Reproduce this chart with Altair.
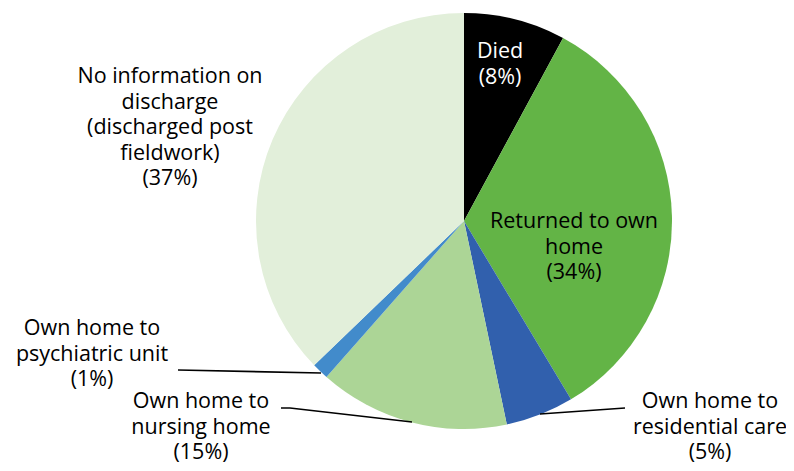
import altair as alt
import pandas as pd

# Data
categories = ["Died", "Returned to own home", "Own home to residential care",
              "Own home to nursing home", "Own home to psychiatric unit",
              "No information on discharge (discharged post fieldwork)"]
shares = [7.9, 33.5, 5.3, 14.8, 1.3, 37.2]
label_lines = [
    ["Died", "(8%)"],
    ["Returned to own", "home", "(34%)"],
    ["Own home to", "residential care", "(5%)"],
    ["Own home to", "nursing home", "(15%)"],
    ["Own home to", "psychiatric unit", "(1%)"],
    ["No information on", "discharge", "(discharged post", "fieldwork)", "(37%)"],
]
colors = ["#000000", "#63b446", "#3160ad", "#acd596", "#428bcb", "#e2efda"]
text_colors = ["#ffffff", "#000000", "#000000", "#000000", "#000000", "#000000"]

# Layout (pixels inside chart area; page offset is 8px)
OFF = 8
W, H = 778, 455
CX, CY, R = 456, 213, 208
# first-line baseline positions in page pixels
label_pos = [(500, 58), (574, 228), (710, 408), (201, 408), (92, 335), (170, 83)]
leaders = [
    [(178, 370), (321, 373)],
    [(281, 408), (290, 408), (412, 422)],
    [(540, 414), (625, 408)],
]

pie_df = pd.DataFrame({"cat": categories, "share": shares,
                       "order": list(range(len(categories)))})

pie = alt.Chart(pie_df).mark_arc(radius=R).encode(
    theta=alt.Theta("share:Q", stack=True),
    order=alt.Order("order:Q"),
    color=alt.Color("cat:N", scale=alt.Scale(domain=categories, range=colors), legend=None),
    x=alt.value(CX), y=alt.value(CY),
)

lab_df = pd.DataFrame({
    "text": label_lines,
    "x": [p[0] - OFF for p in label_pos],
    "y": [p[1] - OFF for p in label_pos],
    "tc": text_colors,
})
labels = alt.Chart(lab_df).mark_text(
    font="Open Sans", fontSize=21.5, lineHeight=25.5, align="center", baseline="alphabetic"
).encode(
    x=alt.X("x:Q", scale=None), y=alt.Y("y:Q", scale=None),
    text="text", color=alt.Color("tc:N", scale=None),
)

rows = []
for i, pts in enumerate(leaders):
    for j, (px, py) in enumerate(pts):
        rows.append({"g": i, "k": j, "x": px - OFF, "y": py - OFF})
lead_df = pd.DataFrame(rows)
lines = alt.Chart(lead_df).mark_line(color="#000000", strokeWidth=1.6).encode(
    x=alt.X("x:Q", scale=None), y=alt.Y("y:Q", scale=None),
    detail="g:N", order="k:Q",
)

chart = alt.layer(pie, lines, labels).properties(
    width=W, height=H, autosize=alt.AutoSizeParams(type="none"), padding=0
).configure_view(stroke=None)

chart.save("out.html", embed_options={"renderer": "svg", "actions": False})
